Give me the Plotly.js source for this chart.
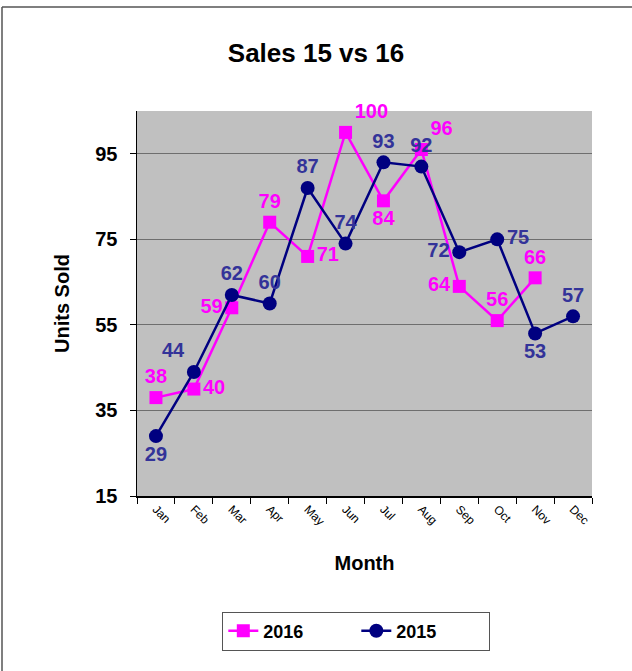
<!DOCTYPE html>
<html>
<head>
<meta charset="utf-8">
<script src="https://cdn.plot.ly/plotly-3.0.1.min.js"></script>
<style>html,body{margin:0;padding:0;background:#fff;}#chart{width:632px;height:671px;}</style>
</head>
<body>
<div id="chart"></div>
<script>
const months = ["Jan","Feb","Mar","Apr","May","Jun","Jul","Aug","Sep","Oct","Nov","Dec"];
const months2016 = ["Jan","Feb","Mar","Apr","May","Jun","Jul","Aug","Sep","Oct","Nov"];
const sales2016 = [38,40,59,79,71,100,84,96,64,56,66];
const sales2015 = [29,44,62,60,87,74,93,92,72,75,53,57];
const pos2016 = ["top center","middle right","middle left","top center","middle right","top right","bottom center","top right","middle left","top center","top center"];
const pos2015 = ["bottom center","top left","top center","top center","top center","top center","top center","top center","middle left","middle right","bottom center","top center"];
const yTicks = [15,35,55,75,95];

const font = "Liberation Sans, Arial, sans-serif";

const traces = [
  {
    x: months2016, y: sales2016, name: "2016", type: "scatter", mode: "lines+markers+text",
    line: {color: "#FF00FF", width: 2.5},
    marker: {symbol: "square", size: 13, color: "#FF00FF"},
    text: sales2016.map(String), textposition: pos2016,
    textfont: {family: font, size: 20, color: "#FF00FF", weight: "bold"},
    cliponaxis: false
  },
  {
    x: months, y: sales2015, name: "2015", type: "scatter", mode: "lines+markers+text",
    line: {color: "#000080", width: 2.5},
    marker: {symbol: "circle", size: 14, color: "#000080"},
    text: sales2015.map(String), textposition: pos2015,
    textfont: {family: font, size: 20, color: "#333399", weight: "bold"},
    cliponaxis: false
  }
];

const layout = {
  width: 632, height: 671,
  margin: {l: 137, r: 40, t: 111, b: 175},
  paper_bgcolor: "#ffffff",
  plot_bgcolor: "#C0C0C0",
  font: {family: font, color: "#000"},
  title: {text: "<b>Sales 15 vs 16</b>", font: {family: font, size: 26, color: "#000"}, x: 0.5, xanchor: "center", y: 0.921, yanchor: "middle"},
  xaxis: {
    type: "category", categoryorder: "array", categoryarray: months,
    range: [-0.5, 11.5],
    showline: true, linecolor: "#000", linewidth: 1.5,
    ticks: "outside", ticklen: 6, tickcolor: "#000", tickson: "boundaries",
    tickangle: 45, tickfont: {family: font, size: 12, color: "#000"},
    showgrid: false, zeroline: false,
    title: {text: "<b>Month</b>", font: {family: font, size: 20, color: "#000"}, standoff: 28}
  },
  yaxis: {
    range: [15, 105], tickvals: yTicks, ticktext: yTicks.map(String),
    showline: true, linecolor: "#000", linewidth: 1.5,
    ticks: "outside", ticklen: 6, tickcolor: "#000", ticklabelstandoff: 8,
    tickfont: {family: font, size: 20, color: "#000", weight: "bold"},
    showgrid: true, gridcolor: "#6e6e6e", gridwidth: 1, zeroline: false,
    title: {text: "<b>Units Sold</b>", font: {family: font, size: 20, color: "#000"}, standoff: 20}
  },
  showlegend: true,
  legend: {
    orientation: "h", x: 0.482, xanchor: "center", y: -0.3, yanchor: "top",
    bordercolor: "#555", borderwidth: 1, bgcolor: "#fff",
    font: {family: font, size: 18, color: "#000", weight: "bold"},
    entrywidth: 88, traceorder: "normal"
  },
  shapes: [
    {type: "line", xref: "paper", yref: "paper", x0: -135/455, x1: 2, y0: 1 + 104/385, y1: 1 + 104/385, line: {color: "#555", width: 1.5}},
    {type: "line", xref: "paper", yref: "paper", x0: -135/455, x1: -135/455, y0: 1 + 104/385, y1: -2, line: {color: "#555", width: 1.5}}
  ]
};

Plotly.newPlot("chart", traces, layout, {displayModeBar: false, staticPlot: true});
</script>
</body>
</html>
